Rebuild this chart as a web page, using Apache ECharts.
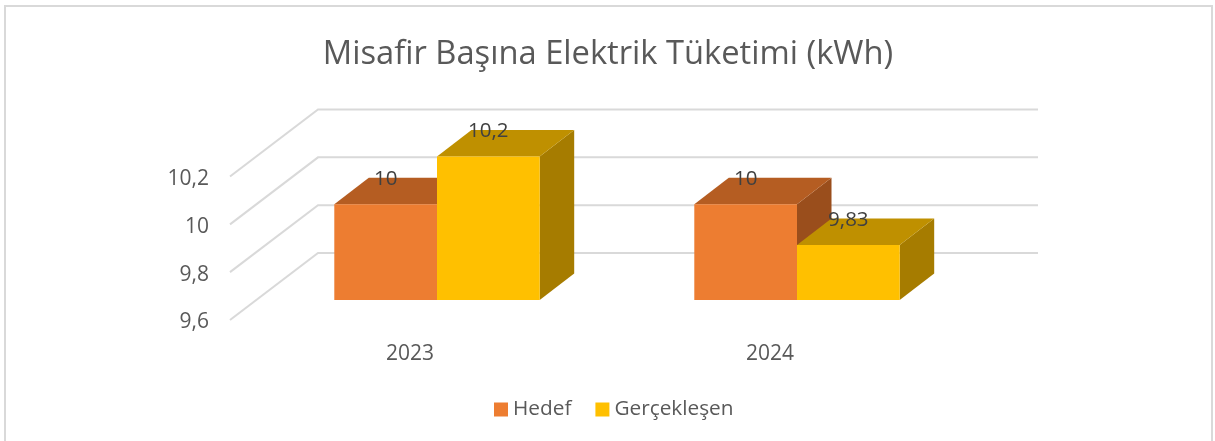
<!DOCTYPE html>
<html><head><meta charset="utf-8">
<style>html,body{margin:0;padding:0;background:#fff}#c{width:1215px;height:441px}</style>
<script src="https://cdn.jsdelivr.net/npm/echarts@6/dist/echarts.min.js"></script>
</head><body><div id="c"></div>
<script>
var chartTitle = 'Misafir Başına Elektrik Tüketimi (kWh)';
var categories = ['2023', '2024'];
var seriesNames = ['Hedef', 'Gerçekleşen'];
var hedef = [10, 10];
var gerceklesen = [10.2, 9.83];
var tickValues = [9.6, 9.8, 10, 10.2];

var FONT = '"Open Sans", sans-serif';
var BACK = [88, -67], PLANE = [27, -20], DEPTH = [34.5, -26.5], BAR_W = 102.7;
var comma = function (v) { return String(v).replace('.', ','); };

function poly(points, fill) {
  return { type: 'polygon', shape: { points: points }, style: { fill: fill } };
}
function barSeries(name, values, slot, front, top, side) {
  return {
    name: name, type: 'custom', z: 3 + slot, itemStyle: { color: front },
    data: values.map(function (v, i) { return [i, v]; }),
    renderItem: function (params, api) {
      var i = api.value(0), v = api.value(1);
      var t = api.coord([i, v]), b = api.coord([i, tickValues[0]]);
      var x0 = t[0] + PLANE[0] + (slot - 1) * BAR_W, x1 = x0 + BAR_W;
      var yT = t[1] + PLANE[1], yB = b[1] + PLANE[1];
      var dx = DEPTH[0], dy = DEPTH[1];
      return { type: 'group', children: [
        poly([[x1, yT], [x1 + dx, yT + dy], [x1 + dx, yB + dy], [x1, yB]], side),
        poly([[x0, yT], [x0 + dx, yT + dy], [x1 + dx, yT + dy], [x1, yT]], top),
        poly([[x0, yT], [x1, yT], [x1, yB], [x0, yB]], front),
        { type: 'text', z2: 10, style: { text: comma(v), x: (x0 + x1) / 2, y: yT - 25,
          align: 'center', verticalAlign: 'middle', font: '20.5px ' + FONT, fill: '#404040' } }
      ] };
    }
  };
}

var wall = {
  type: 'custom', z: 1, silent: true,
  data: tickValues.map(function (v) { return [0, v]; }),
  renderItem: function (params, api) {
    var cs = params.coordSys, y = api.coord([0, api.value(1)])[1];
    return { type: 'polyline',
      shape: { points: [[cs.x, y], [cs.x + BACK[0], y + BACK[1]], [cs.x + cs.width + BACK[0], y + BACK[1]]] },
      style: { stroke: '#d9d9d9', lineWidth: 2, fill: 'none' } };
  }
};

var chart = echarts.init(document.getElementById('c'), null, { renderer: 'canvas' });
chart.setOption({
  animation: false,
  backgroundColor: '#fff',
  graphic: [{ type: 'rect', silent: true, shape: { x: 5, y: 6, width: 1207, height: 460 },
    style: { fill: 'none', stroke: '#d9d9d9', lineWidth: 2 } }],
  title: { text: chartTitle, left: 603, top: 33, textAlign: 'center',
    textStyle: { fontFamily: FONT, fontSize: 32.7, fontWeight: 'normal', color: '#595959' } },
  legend: { data: seriesNames, left: 489, top: 394, icon: 'rect', itemWidth: 14, itemHeight: 14, itemGap: 24,
    textStyle: { fontFamily: FONT, fontSize: 20.8, color: '#595959' } },
  grid: { left: 230, top: 176.5, width: 720, height: 143.5 },
  xAxis: { type: 'category', data: categories,
    axisLine: { show: false }, axisTick: { show: false }, splitLine: { show: false },
    axisLabel: { margin: 21, fontFamily: FONT, fontSize: 21, color: '#595959', padding: [3, 0, 0, 0] } },
  yAxis: { type: 'value', min: 9.6, max: 10.2, interval: 0.2,
    axisLine: { show: false }, axisTick: { show: false }, splitLine: { show: false },
    axisLabel: { margin: 21, fontFamily: FONT, fontSize: 21, color: '#595959', verticalAlign: 'top', lineHeight: 5, formatter: comma } },
  series: [wall,
    barSeries(seriesNames[0], hedef, 0, '#ED7D31', '#B55D22', '#9A4E1C'),
    barSeries(seriesNames[1], gerceklesen, 1, '#FFC000', '#BF9000', '#A67C00')]
});
</script></body></html>
